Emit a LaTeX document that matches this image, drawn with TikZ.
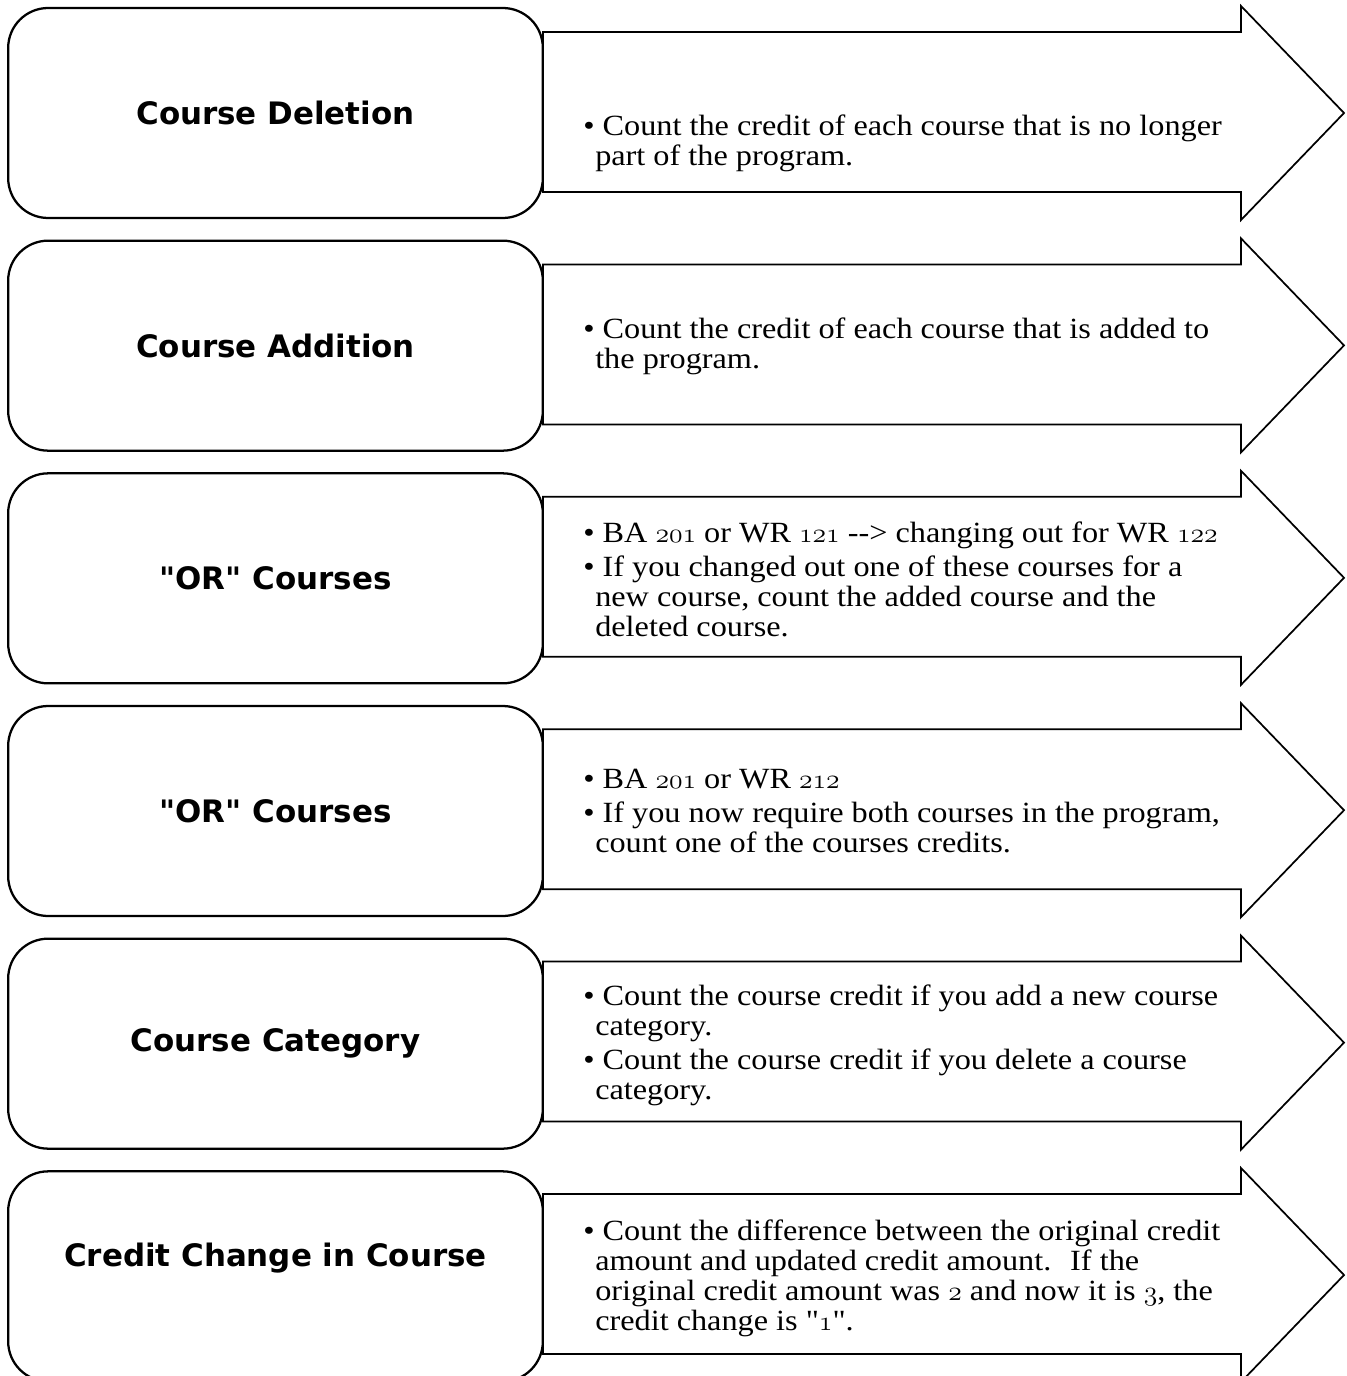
\documentclass[tikz,border=0pt]{standalone}
\usepackage{fontspec}
\setmainfont{Liberation Serif}[Ligatures=TeXOff, FakeStretch=1.1]
\newfontfamily\labelfont{DejaVu Sans}
\usetikzlibrary{positioning}

% old style digits, taken from the math italic font
\newcommand{\osf}[1]{{\usefont{OML}{cmm}{m}{it}#1}}
\newcommand{\cont}{\hspace*{9pt}}

\tikzset{
  rowbox/.style={draw, line width=1.7pt, rounded corners=30pt, fill=white,
    minimum width=401pt, minimum height=157.5pt, inner sep=0pt,
    font=\labelfont\bfseries\fontsize{23.2}{28}\selectfont},
  rowarrow/.style={draw, line width=1.3pt, fill=white, line join=miter},
  bullets/.style={anchor=west, align=left, inner sep=0pt,
    font=\fontsize{22}{22.5}\selectfont},
}

\begin{document}
\begin{tikzpicture}[x=0.75pt, y=-0.75pt]
  \useasboundingbox (0,0) rectangle (1346,1376);

  % Arrows behind the boxes
  \foreach \i in {0,...,5}
    \draw[rowarrow, shift={(0,232.4*\i)}] (543,32) -- (1241,32) -- (1241,6)
      -- (1344,113) -- (1241,220) -- (1241,192) -- (543,192) -- cycle;

  % Left boxes
  \node[rowbox] (del) at (275.5,113) {Course Deletion};
  \node[rowbox, below=15.3pt of del] (add) {Course Addition};
  \node[rowbox, below=15.3pt of add] (orA) {"OR" Courses};
  \node[rowbox, below=15.3pt of orA] (orB) {"OR" Courses};
  \node[rowbox, below=15.3pt of orB] (cat) {Course Category};
  \node[rowbox, below=15.3pt of cat] (chg) {\raisebox{14pt}[\height][\depth]{Credit Change in Course}};

  % Texts in the arrows
  \node[bullets] (delT) at (583,143) {\textbullet{} Count the credit of each course that is no longer\\
    \cont part of the program.};
  \node[bullets] (addT) at (583,346) {\textbullet{} Count the credit of each course that is added to\\
    \cont the program.};
  \node[bullets] (orAT) at (583,579) {\textbullet{} BA \osf{201} or WR \osf{121} --> changing out for WR \osf{122}\\[3pt]
    \textbullet{} If you changed out one of these courses for a\\
    \cont new course, count the added course and the\\
    \cont deleted course.};
  \node[bullets] (orBT) at (583,811) {\textbullet{} BA \osf{201} or WR \osf{212}\\[3pt]
    \textbullet{} If you now require both courses in the program,\\
    \cont count one of the courses credits.};
  \node[bullets] (catT) at (583,1045) {\textbullet{} Count the course credit if you add a new course\\
    \cont category.\\[3pt]
    \textbullet{} Count the course credit if you delete a course\\
    \cont category.};
  \node[bullets] (chgT) at (583,1278) {\textbullet{} Count the difference between the original credit\\
    \cont amount and updated credit amount.~ If the\\
    \cont original credit amount was \osf{2} and now it is \osf{3}, the\\
    \cont credit change is "\osf{1}".};
\end{tikzpicture}
\end{document}
